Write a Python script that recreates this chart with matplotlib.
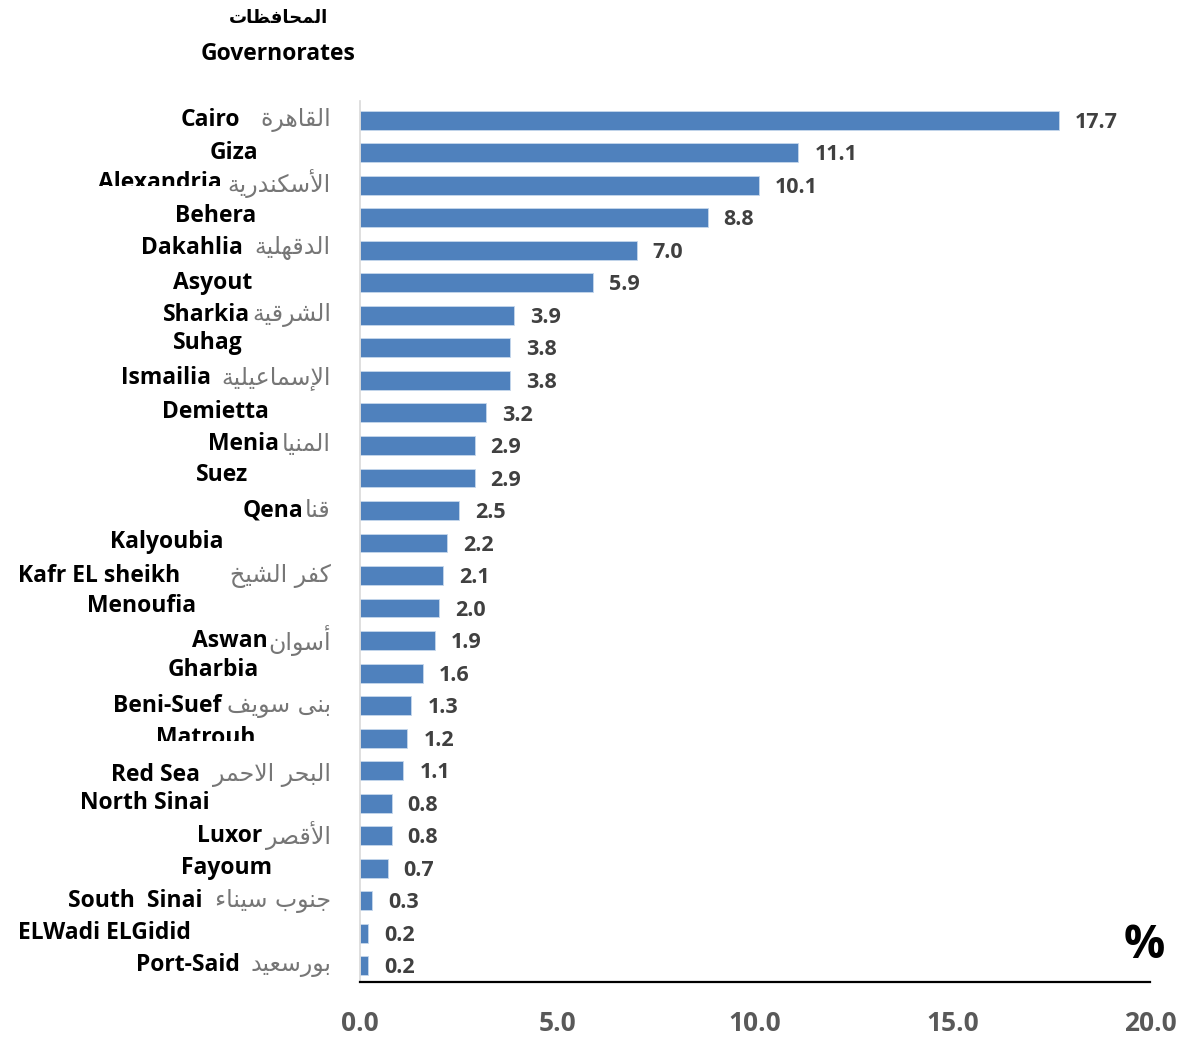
import matplotlib
matplotlib.use("Agg")
import matplotlib.pyplot as plt
import matplotlib.transforms as mtransforms

### Data ################################################################################
english = [ "Cairo", "Giza", "Alexandria", "Behera", "Dakahlia", "Asyout", "Sharkia",
            "Suhag", "Ismailia", "Demietta", "Menia", "Suez", "Qena", "Kalyoubia",
            "Kafr EL sheikh", "Menoufia", "Aswan", "Gharbia", "Beni-Suef", "Matrouh",
            "Red Sea", "North Sinai", "Luxor", "Fayoum", "South  Sinai",
            "ELWadi ELGidid", "Port-Said" ]
arabic = [ "القاهرة", "", "الأسكندرية", "", "الدقهلية", "", "الشرقية", "", "الإسماعيلية",
           "", "المنيا", "", "قنا", "", "كفر الشيخ", "", "أسوان", "", "بنى سويف", "",
           "البحر الاحمر", "", "الأقصر", "", "جنوب سيناء", "", "بورسعيد" ]
share = [ 17.7, 11.1, 10.1, 8.8, 7.0, 5.9, 3.9, 3.8, 3.8, 3.2, 2.9, 2.9, 2.5, 2.2,
          2.1, 2.0, 1.9, 1.6, 1.3, 1.2, 1.1, 0.8, 0.8, 0.7, 0.3, 0.2, 0.2 ]
xticks = [ 0, 5, 10, 15, 20 ]

### Label layout (right edge of the english label in pixels, vertical nudge in px) ######
en_right = [ 240, 258, 222, 256, 243, 252, 250, 243, 211, 269, 279, 248, 303, 224,
             180, 196, 268, 259, 221, 256, 200, 210, 262, 272, 202, 191, 240 ]
en_nudge = [ 0, 0, -2, -2, -2, 0, 0, -5, -2, -1, -1, -3, 0, -1,
             0, -2, 0, -3, 0, 0, 4, 0, 0, 0, 0, 0, -1 ]
# a couple of the original text boxes were cut off at the bottom (pixel row)
en_cut = { 2: 186, 19: 741 }


### crude arabic shaping (matplotlib does no shaping / bidi) ############################
NFORMS = [ 1, 2, 2, 2, 2, 4, 2, 4, 2, 4, 4, 4, 4, 4, 2, 2, 2, 2, 4, 4, 4, 4, 4, 4, 4, 4,
           4, 4, 4, 4, 4, 4, 4, 2, 2, 4 ]
LETTERS = [ chr(c) for c in range( 0x621, 0x63B ) ] + [ chr(c) for c in range( 0x641, 0x64B ) ]
FORMS = {}
base = 0xFE80
for ch, n in zip( LETTERS, NFORMS ):
    FORMS[ch] = ( base, n )
    base += n
LAMALEF = { "\u0622": 0xFEF5, "\u0623": 0xFEF7, "\u0625": 0xFEF9, "\u0627": 0xFEFB }


def shape( txt ):
    out = []
    i = 0
    prev_joins = False
    while i < len( txt ):
        ch = txt[i]
        if ch not in FORMS:
            out.append( ch )
            prev_joins = False
            i += 1
            continue
        nxt = txt[i + 1] if i + 1 < len( txt ) else ""
        if ch == "\u0644" and nxt in LAMALEF:
            out.append( chr( LAMALEF[nxt] + ( 1 if prev_joins else 0 ) ) )
            prev_joins = False
            i += 2
            continue
        b, n = FORMS[ch]
        next_joins = n == 4 and nxt in FORMS and FORMS[nxt][1] > 1
        if n == 1:
            form = 0
        elif prev_joins and next_joins:
            form = 3
        elif prev_joins:
            form = 1
        elif next_joins:
            form = 2
        else:
            form = 0
        out.append( chr( b + form ) )
        prev_joins = n == 4
        i += 1
    return "".join( reversed( out ) )


### Figure ##############################################################################
W, H = 1192, 1040
fig = plt.figure( figsize=( W / 100, H / 100 ), dpi=100 )
ax = fig.add_axes( [ 360 / W, 1 - 982 / H, 790 / W, ( 982 - 104 ) / H ] )

ypos = list( range( len( share ) ) )
ax.barh( ypos, share, height=0.58, color="#4f81bd", edgecolor="#c6d7ec", linewidth=0.6 )
ax.set_ylim( len( share ) - 0.5, -0.5 )
ax.set_xlim( 0, 20 )

for s in [ "top", "right" ]:
    ax.spines[s].set_visible( False )
ax.spines["left"].set_color( "#d9d9d9" )
ax.spines["left"].set_linewidth( 1.2 )
ax.spines["left"].set_bounds( len( share ) - 0.5, -0.6 )
ax.spines["bottom"].set_color( "black" )
ax.spines["bottom"].set_linewidth( 1.6 )

ax.set_yticks( [] )
ax.set_xticks( xticks )
ax.set_xticklabels( [ "%.1f" % t for t in xticks ], fontsize=19, fontweight="bold",
                    color="#595959", family="Open Sans" )
ax.tick_params( axis="x", length=0, pad=20 )

# value labels
for y, v in zip( ypos, share ):
    ax.annotate( "%.1f" % v, ( v, y ), xytext=( 11.5, -1.5 ), textcoords="offset points",
                 ha="left", va="center", fontsize=15.5, fontweight="bold",
                 color="#404040", family="Open Sans" )

# category labels
tr = mtransforms.blended_transform_factory( fig.transFigure, ax.transData )
for i, ( y, en, ar, xr, dy ) in enumerate( zip( ypos, english, arabic, en_right, en_nudge ) ):
    off = mtransforms.offset_copy( tr, fig=fig, x=0, y=-dy * 0.72, units="points" )
    t = ax.text( xr / W, y, en, transform=off, ha="right", va="center", fontsize=16.5,
                 fontweight="bold", color="black", family="Open Sans", clip_on=False )
    if i in en_cut:
        t.set_clip_on( True )
        t.set_clip_box( mtransforms.TransformedBbox(
            mtransforms.Bbox( [ [ 0, 1 - en_cut[i] / H ], [ 1, 1 ] ] ), fig.transFigure ) )
    if ar:
        ax.text( 331 / W, y, shape( ar ), transform=off, ha="right", va="center",
                 fontsize=17, color="#767676", family="DejaVu Sans", clip_on=False )

# titles
fig.text( 278 / W, 1 - 18 / H, shape( "المحافظات" ), ha="center", va="center",
          fontsize=13, fontweight="bold", color="black", family="DejaVu Sans" )
fig.text( 278 / W, 1 - 54 / H, "Governorates", ha="center", va="center",
          fontsize=16.5, fontweight="bold", color="black", family="Open Sans" )
fig.text( 1144 / W, 1 - 945 / H, "%", ha="center", va="center",
          fontsize=33, fontweight="bold", color="black", family="Open Sans" )

fig.savefig( "out.png", dpi=100 )
